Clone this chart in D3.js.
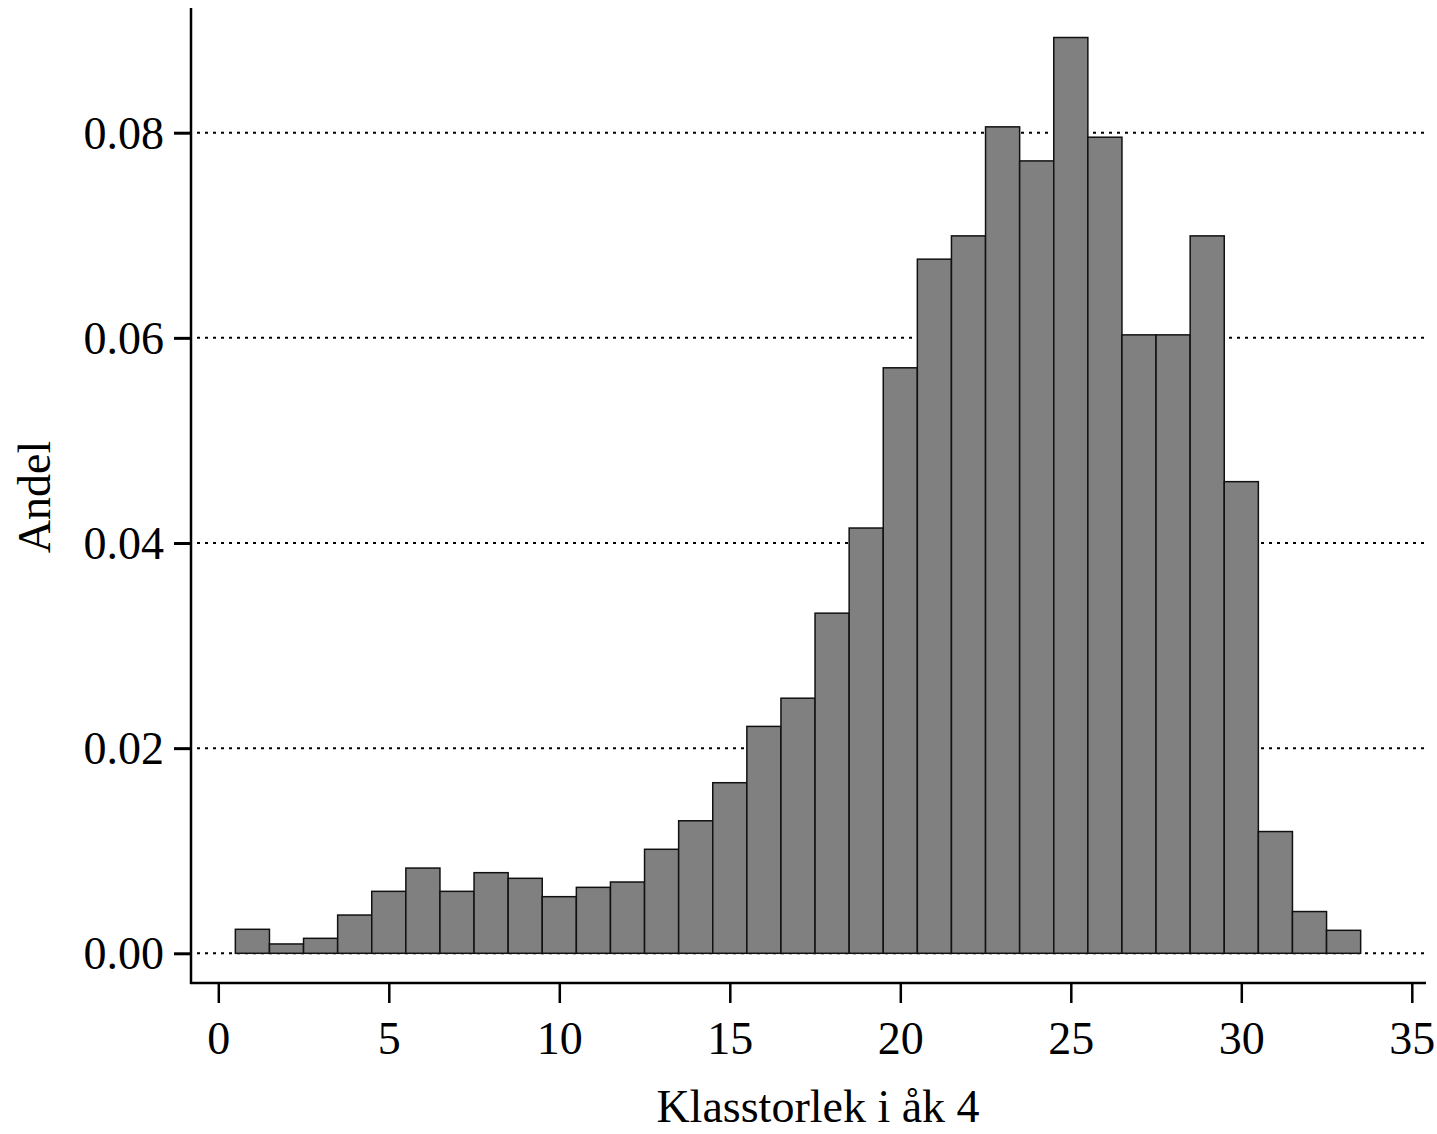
<!DOCTYPE html>
<html>
<head>
<meta charset="utf-8">
<script src="https://cdn.jsdelivr.net/npm/d3@7"></script>
<style>
  body { margin: 0; background: #fff; }
  text { font-family: "Liberation Serif", "Times New Roman", serif; fill: #000; }
</style>
</head>
<body>
<script>
// class size (bin centre) and share of classes
const classSizes = [1,2,3,4,5,6,7,8,9,10,11,12,13,14,15,16,17,18,19,20,21,22,23,24,25,26,27,28,29,30,31,32,33];
const shares = [0.00234, 0.00091, 0.00146, 0.00373, 0.00604, 0.00831, 0.00604, 0.00786, 0.00731, 0.00552,
                0.00643, 0.00695, 0.01014, 0.01292, 0.01663, 0.02212, 0.02487, 0.03316, 0.04146, 0.05708,
                0.06767, 0.06994, 0.08057, 0.07725, 0.08928, 0.07956, 0.06029, 0.06029, 0.06994, 0.04598,
                0.01187, 0.00407, 0.00224];
const xTicks = [0, 5, 10, 15, 20, 25, 30, 35];
const yTicks = [0, 0.02, 0.04, 0.06, 0.08];

const width = 1437, height = 1134;
const axisX = 191, axisY = 983;

const svg = d3.select("body").append("svg")
  .attr("width", width)
  .attr("height", height);

var x = d3.scaleLinear().domain([0, 35]).range([218.3, 1411.8]);
var y = d3.scaleLinear().domain([0, 0.08]).range([953.3, 132.7]);

// dotted gridlines
svg.append("g")
  .selectAll("line")
  .data(yTicks)
  .enter().append("line")
    .attr("x1", axisX + 6)
    .attr("x2", 1426)
    .attr("y1", d => y(d))
    .attr("y2", d => y(d))
    .attr("stroke", "#000")
    .attr("stroke-width", 2)
    .attr("stroke-dasharray", "3 5");

// bars
const binW = x(1) - x(0);
svg.append("g")
  .selectAll("rect")
  .data(classSizes)
  .enter().append("rect")
    .attr("x", d => x(d) - binW / 2)
    .attr("width", binW)
    .attr("y", (d, i) => y(shares[i]))
    .attr("height", (d, i) => y(0) - y(shares[i]))
    .attr("fill", "#808080")
    .attr("stroke", "#111")
    .attr("stroke-width", 1.5);

// y axis
var yAxis = svg.append("g")
  .attr("transform", `translate(${axisX},0)`)
  .call(d3.axisLeft(y).tickValues(yTicks).tickSize(17).tickPadding(10).tickFormat(d3.format(".2f")));
yAxis.select(".domain").remove();
yAxis.selectAll(".tick line").attr("stroke", "#000").attr("stroke-width", 3);
yAxis.selectAll(".tick text").attr("font-size", 46).attr("dy", "0.34em");
yAxis.append("line")
  .attr("x1", 0).attr("x2", 0).attr("y1", 8).attr("y2", axisY + 1)
  .attr("stroke", "#000").attr("stroke-width", 2.5);

// x axis
var xAxis = svg.append("g")
  .attr("transform", `translate(0,${axisY})`)
  .call(d3.axisBottom(x).tickValues(xTicks).tickSize(20).tickPadding(18));
xAxis.select(".domain").remove();
xAxis.selectAll(".tick line").attr("stroke", "#000").attr("stroke-width", 2.5);
xAxis.selectAll(".tick text").attr("font-size", 46).attr("dy", "0.72em");
xAxis.append("line")
  .attr("x1", axisX - 1).attr("x2", 1426).attr("y1", 0).attr("y2", 0)
  .attr("stroke", "#000").attr("stroke-width", 2.5);

// axis titles
svg.append("text")
  .attr("x", 818)
  .attr("y", 1122)
  .attr("text-anchor", "middle")
  .attr("font-size", 46)
  .text("Klasstorlek i åk 4");

svg.append("text")
  .attr("transform", "translate(50,497) rotate(-90)")
  .attr("text-anchor", "middle")
  .attr("font-size", 46)
  .text("Andel");
</script>
</body>
</html>
